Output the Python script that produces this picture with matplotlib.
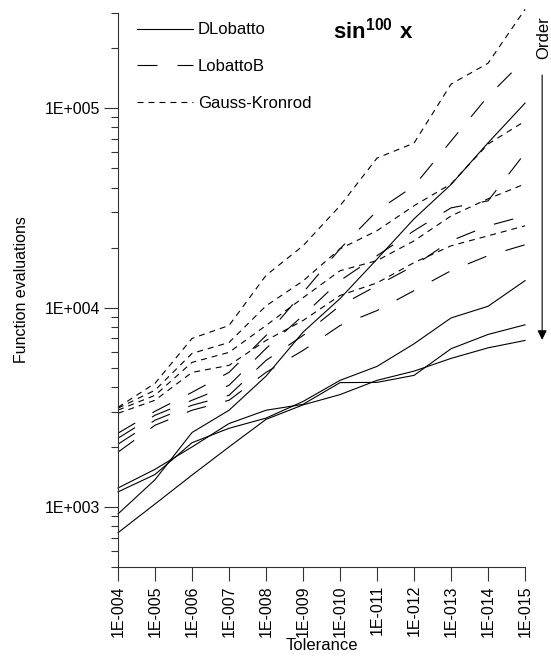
import matplotlib
matplotlib.use('Agg')
import matplotlib.pyplot as plt
from matplotlib.ticker import FixedLocator, LogLocator, NullFormatter

plt.rcParams['font.family'] = ['Liberation Sans', 'DejaVu Sans']
plt.rcParams['mathtext.fontset'] = 'custom'
plt.rcParams['mathtext.rm'] = 'Liberation Sans'
plt.rcParams['mathtext.bf'] = 'Liberation Sans:bold'
plt.rcParams['lines.scale_dashes'] = False

# tolerances on the x axis
tolerances = ['1E-004', '1E-005', '1E-006', '1E-007', '1E-008', '1E-009',
              '1E-010', '1E-011', '1E-012', '1E-013', '1E-014', '1E-015']

# function evaluations, four orders per method
dlobatto_1 = [743, 1035, 1445, 2000, 2750, 3250, 3660, 4315, 4800, 5560, 6280, 6840]
dlobatto_2 = [923, 1370, 2363, 3055, 4530, 7530, 11090, 17500, 27860, 41400, 67000, 106000]
dlobatto_3 = [1245, 1545, 2000, 2620, 3055, 3270, 4203, 4215, 4570, 6215, 7330, 8195]
dlobatto_4 = [1190, 1455, 2100, 2480, 2790, 3380, 4315, 5070, 6580, 8870, 10150, 13650]

lobattob_1 = [2344, 3020, 3758, 4732, 7244, 11890, 19720, 30550, 40740, 68390, 114800, 175800]
lobattob_2 = [2213, 2884, 3428, 4074, 6237, 9120, 13650, 18200, 24270, 31620, 34280, 59570]
lobattob_3 = [2065, 2723, 3236, 3631, 5433, 7244, 10230, 12880, 16220, 21630, 25700, 28840]
lobattob_4 = [1884, 2570, 3055, 3428, 4732, 6095, 8128, 9661, 12160, 15310, 18200, 20650]

kronrod_1 = [3160, 4170, 7000, 8130, 14500, 20400, 32400, 56200, 66800, 132000, 168000, 313000]
kronrod_2 = [3130, 3850, 5890, 6680, 10200, 13600, 19700, 24300, 32400, 41700, 66100, 86100]
kronrod_3 = [3060, 3630, 5310, 5960, 8130, 11200, 15300, 17200, 21600, 28800, 35100, 41700]
kronrod_4 = [2950, 3430, 4730, 5130, 6840, 8610, 11500, 13300, 16800, 20400, 22900, 25700]

x = list(range(len(tolerances)))
lw = 0.8

fig = plt.figure(figsize=(5.51, 6.64), dpi=100)
ax = fig.add_axes([0.2142, 0.1461, 0.7387, 0.8343])

solid = dict(color='black', lw=lw, linestyle='-', clip_on=False)
longdash = dict(color='black', lw=lw, linestyle=(0, (14.4, 14.4)), clip_on=False)
shortdash = dict(color='black', lw=lw, linestyle=(0, (4.3, 3.6)), clip_on=False)

for i, s in enumerate([dlobatto_1, dlobatto_2, dlobatto_3, dlobatto_4]):
    ax.plot(x, s, label='DLobatto' if i == 0 else None, **solid)
for i, s in enumerate([lobattob_1, lobattob_2, lobattob_3, lobattob_4]):
    ax.plot(x, s, label='LobattoB' if i == 0 else None, **longdash)
for i, s in enumerate([kronrod_1, kronrod_2, kronrod_3, kronrod_4]):
    ax.plot(x, s, label='Gauss-Kronrod' if i == 0 else None, **shortdash)

ax.set_yscale('log')
ax.set_ylim(500, 3e5)
ax.set_xlim(0, 11)

ax.yaxis.set_major_locator(FixedLocator([1e3, 1e4, 1e5]))
ax.set_yticklabels(['1E+003', '1E+004', '1E+005'])
ax.yaxis.set_minor_locator(LogLocator(base=10, subs=range(2, 10)))
ax.yaxis.set_minor_formatter(NullFormatter())

ax.set_xticks(x)
ax.set_xticklabels(tolerances, rotation=90)

for side in ['top', 'right']:
    ax.spines[side].set_visible(False)
for side in ['left', 'bottom']:
    ax.spines[side].set_linewidth(0.8)
    ax.spines[side].set_color('#333333')

ax.tick_params(axis='both', which='major', length=10, width=0.8, labelsize=11.5, colors='#333333')
ax.tick_params(axis='x', labelcolor='black', pad=3)
ax.tick_params(axis='y', labelcolor='black', pad=3)
ax.tick_params(axis='y', which='minor', length=5, width=0.8, colors='#333333')

ax.set_xlabel('Tolerance', fontsize=12, labelpad=1)
ax.set_ylabel('Function evaluations', fontsize=11.5, labelpad=11)

leg = ax.legend(loc='upper left', bbox_to_anchor=(0.01, 1.01), frameon=False,
                handlelength=3.35, handletextpad=0.3, labelspacing=1.3, fontsize=12)

ax.text(0.627, 0.969, r'$\mathbf{sin^{100}\ x}$', transform=ax.transAxes,
        ha='center', va='center', fontsize=16)

# order arrow on the right
ax.text(1.045, 0.955, 'Order', transform=ax.transAxes, rotation=90,
        ha='center', va='center', fontsize=12)
ax.annotate('', xy=(1.042, 0.41), xytext=(1.042, 0.888),
            xycoords='axes fraction', textcoords='axes fraction',
            arrowprops=dict(arrowstyle='-|>', color='black', lw=0.8,
                            mutation_scale=14, shrinkA=0, shrinkB=0))

fig.savefig('out.png', dpi=100)
